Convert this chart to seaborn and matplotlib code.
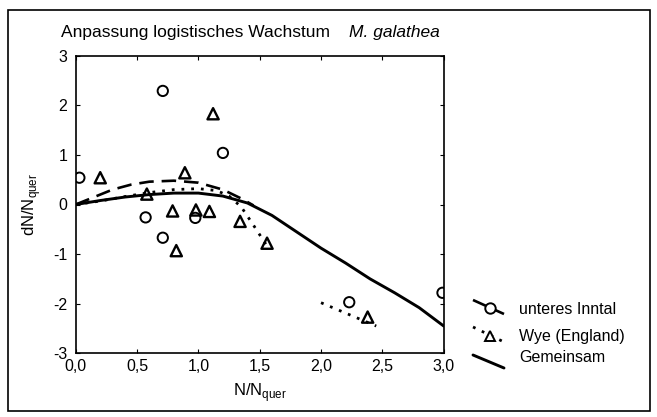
import matplotlib
matplotlib.use("Agg")
import matplotlib.pyplot as plt
import seaborn as sns
import numpy as np
import pandas as pd
from matplotlib.lines import Line2D
from matplotlib.patches import Rectangle

# ---- data ----
inn_x = [0.03, 0.71, 1.20, 0.57, 0.71, 0.975, 2.23, 2.99]
inn_y = [0.54, 2.29, 1.04, -0.26, -0.67, -0.27, -1.97, -1.78]

wye_x = [0.20, 0.89, 0.58, 0.79, 0.82, 0.98, 1.09, 1.12, 1.34, 1.56, 2.38]
wye_y = [0.54, 0.64, 0.21, -0.13, -0.93, -0.11, -0.14, 1.83, -0.34, -0.78, -2.27]

# fitted curves
gem_x = [0.0, 0.2, 0.4, 0.6, 0.8, 1.0, 1.2, 1.4, 1.6, 1.8, 2.0, 2.2, 2.4, 2.6, 2.8, 3.0]
gem_y = [0.0, 0.08, 0.15, 0.20, 0.23, 0.23, 0.17, 0.03, -0.22, -0.55, -0.88, -1.18, -1.50, -1.78, -2.08, -2.45]

inn_fit_x = [0.0, 0.15, 0.3, 0.45, 0.6, 0.8, 1.0, 1.2, 1.35, 1.45]
inn_fit_y = [0.0, 0.15, 0.30, 0.40, 0.46, 0.48, 0.44, 0.30, 0.12, -0.02]

wye_fit_x = [0.0, 0.2, 0.4, 0.6, 0.8, 1.0, 1.15, 1.25, 1.35, 1.45, 1.55]
wye_fit_y = [0.0, 0.07, 0.16, 0.24, 0.30, 0.32, 0.28, 0.17, -0.05, -0.42, -0.80]
wye_fit2_x = [2.0, 2.45]
wye_fit2_y = [-1.98, -2.45]

x_ticks = [0.0, 0.5, 1.0, 1.5, 2.0, 2.5, 3.0]
x_ticklabels = ["0,0", "0,5", "1,0", "1,5", "2,0", "2,5", "3,0"]
y_ticks = [-3, -2, -1, 0, 1, 2, 3]
y_ticklabels = ["-3", "-2", "-1", "0", "1", "2", "3"]

legend_labels = ["unteres Inntal", "Wye (England)", "Gemeinsam"]

# ---- figure ----
sns.set_theme(style="white")
plt.rcParams['font.family'] = ['Liberation Sans', 'DejaVu Sans']
plt.rcParams['mathtext.fontset'] = 'custom'
plt.rcParams['mathtext.rm'] = 'Liberation Sans'

W, H = 657, 417
fig = plt.figure(figsize=(W / 100, H / 100), dpi=100)
fig.patch.set_facecolor("white")

ax_l, ax_r, ax_t, ax_b = 75.7, 443.7, 55.7, 353.3
ax = fig.add_axes([ax_l / W, 1 - ax_b / H, (ax_r - ax_l) / W, (ax_b - ax_t) / H])

dash_style = (0, (5.5, 3))
dot_style = (0, (1, 2.5))

sns.lineplot(x=inn_fit_x, y=inn_fit_y, ax=ax, color="black", lw=1.9, sort=False)
ax.lines[-1].set_linestyle(dash_style)
sns.lineplot(x=wye_fit_x, y=wye_fit_y, ax=ax, color="black", lw=2.0, sort=False)
ax.lines[-1].set_linestyle(dot_style)
sns.lineplot(x=wye_fit2_x, y=wye_fit2_y, ax=ax, color="black", lw=2.0, sort=False)
ax.lines[-1].set_linestyle(dot_style)
sns.lineplot(x=gem_x, y=gem_y, ax=ax, color="black", lw=2.1, sort=False)

sns.scatterplot(x=inn_x, y=inn_y, ax=ax, marker="o", s=55, facecolor="none",
                edgecolor="black", linewidth=1.4, zorder=5)
sns.scatterplot(x=wye_x, y=wye_y, ax=ax, marker="^", s=65, facecolor="none",
                edgecolor="black", linewidth=1.7, zorder=5)

ax.set_xlim(0, 3)
ax.set_ylim(-3, 3)
ax.set_xticks(x_ticks)
ax.set_xticklabels(x_ticklabels)
ax.set_yticks(y_ticks)
ax.set_yticklabels(y_ticklabels)
ax.tick_params(axis="both", which="both", direction="in", length=3, width=0.8,
               colors="black", labelsize=11.5, top=True, right=True, bottom=True, left=True)
ax.tick_params(axis="x", pad=4)
ax.tick_params(axis="y", pad=6)
for sp in ax.spines.values():
    sp.set_visible(True)
    sp.set_color("black")
    sp.set_linewidth(1.2)

ax.set_xlabel(r"N/N$_{\mathregular{quer}}$", fontsize=12, labelpad=5, color="black")
ax.set_ylabel(r"dN/N$_{\mathregular{quer}}$", fontsize=12, labelpad=7, color="black")

# title
fig.text(61 / W, 1 - 32 / H, "Anpassung logistisches Wachstum", fontsize=12.5,
         ha="left", va="center", color="black")
fig.text(349 / W, 1 - 32 / H, "M. galathea", fontsize=12.5, style="italic",
         ha="left", va="center", color="black")

# legend (slanted handles as in the reference)
def fx(px):
    return px / W

def fy(py):
    return 1 - py / H

leg_rows = [
    (300, 314, dash_style, 1.9, "o", 310),
    (327, 342, dot_style, 2.0, "^", 337),
    (355, 368, "-", 2.1, None, 357),
]
for (y0, y1, ls, lw, mk, ty), lab in zip(leg_rows, legend_labels):
    fig.add_artist(Line2D([fx(473), fx(504)], [fy(y0), fy(y1)], color="black",
                          lw=lw, linestyle=ls))
    if mk is not None:
        fig.add_artist(Line2D([fx(490)], [fy((y0 + y1) / 2 + 1)], marker=mk,
                              markersize=7.5, markerfacecolor="white",
                              markeredgecolor="black", markeredgewidth=1.4,
                              linestyle="none"))
    fig.text(fx(519), fy(ty), lab, fontsize=11.5, ha="left", va="center", color="black")

# outer frame
fig.add_artist(Rectangle((fx(8), fy(411)), (650 - 8) / W, (411 - 10) / H,
                         transform=fig.transFigure, fill=False, edgecolor="black", lw=1.2))

fig.savefig("out.png", dpi=100)
